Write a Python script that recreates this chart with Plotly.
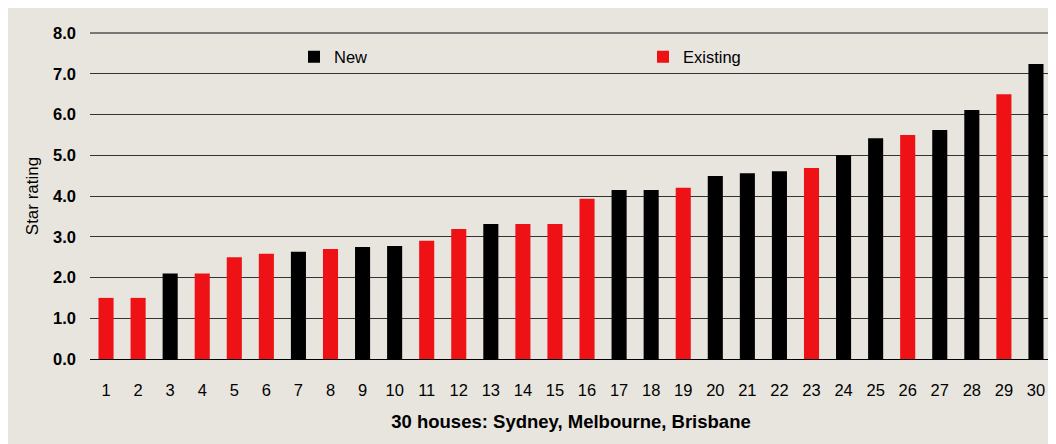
import plotly.graph_objects as go

houses = [str(i) for i in range(1, 31)]
ratings = [1.5, 1.5, 2.1, 2.1, 2.5, 2.58, 2.63, 2.7, 2.75, 2.77,
           2.9, 3.19, 3.31, 3.31, 3.31, 3.93, 4.15, 4.15, 4.2, 4.49,
           4.56, 4.61, 4.69, 5.0, 5.42, 5.5, 5.62, 6.11, 6.5, 7.24]
house_type = ["Existing", "Existing", "New", "Existing", "Existing", "Existing", "New", "Existing", "New", "New",
              "Existing", "Existing", "New", "Existing", "Existing", "Existing", "New", "New", "Existing", "New",
              "New", "New", "Existing", "New", "New", "Existing", "New", "New", "Existing", "New"]
y_ticks = [0, 1, 2, 3, 4, 5, 6, 7, 8]
y_ticklabels = [f"{v:.1f}" for v in y_ticks]

colors = {"New": "#000000", "Existing": "#EE1115"}
FONT = "Liberation Sans, Arial, sans-serif"

fig = go.Figure()
for series in ["New", "Existing"]:
    ys = [r if t == series else None for r, t in zip(ratings, house_type)]
    fig.add_trace(go.Bar(x=houses, y=ys, name=series, marker_color=colors[series],
                         marker_line_width=0, width=0.47))

# page has 8px body margin; figure sits at (8, 8)
W, H = 1048, 436
L, R, T, B = 82, 4, 25, 85
pw, ph = W - L - R, H - T - B

# lighter top border line of the plot area
fig.add_shape(type="line", xref="paper", yref="paper", x0=0, x1=1, y0=1, y1=1,
              line=dict(color="#777", width=2), layer="above")

fig.update_layout(
    width=W, height=H,
    margin=dict(l=L, r=R, t=T, b=B),
    paper_bgcolor="#E8E5DF", plot_bgcolor="#E8E5DF",
    barmode="overlay",
    font=dict(family=FONT, color="#000", size=16),
    legend=dict(orientation="h", x=(286 - L) / pw, xanchor="left",
                y=1 - (49 - T) / ph, yanchor="middle",
                entrywidthmode="pixels", entrywidth=304,
                font=dict(size=16.5), bgcolor="rgba(0,0,0,0)",
                traceorder="normal"),
    xaxis=dict(type="category", range=[-0.5, 29.5], showgrid=False,
               tickfont=dict(size=16.5), ticks="", ticklabelstandoff=19,
               title=dict(text="<b>30 houses: Sydney, Melbourne, Brisbane</b>",
                          font=dict(size=18.5), standoff=17)),
    yaxis=dict(range=[0, 8], tickvals=y_ticks, ticktext=[f"<b>{t}</b>" for t in y_ticklabels],
               tickfont=dict(size=16.5), showgrid=True, gridcolor="#333", gridwidth=1,
               zeroline=True, zerolinecolor="#000", zerolinewidth=1,
               ticks="", ticklabelstandoff=13,
               title=dict(text="Star rating", font=dict(size=17), standoff=10)),
)

fig.write_html("out.html")
